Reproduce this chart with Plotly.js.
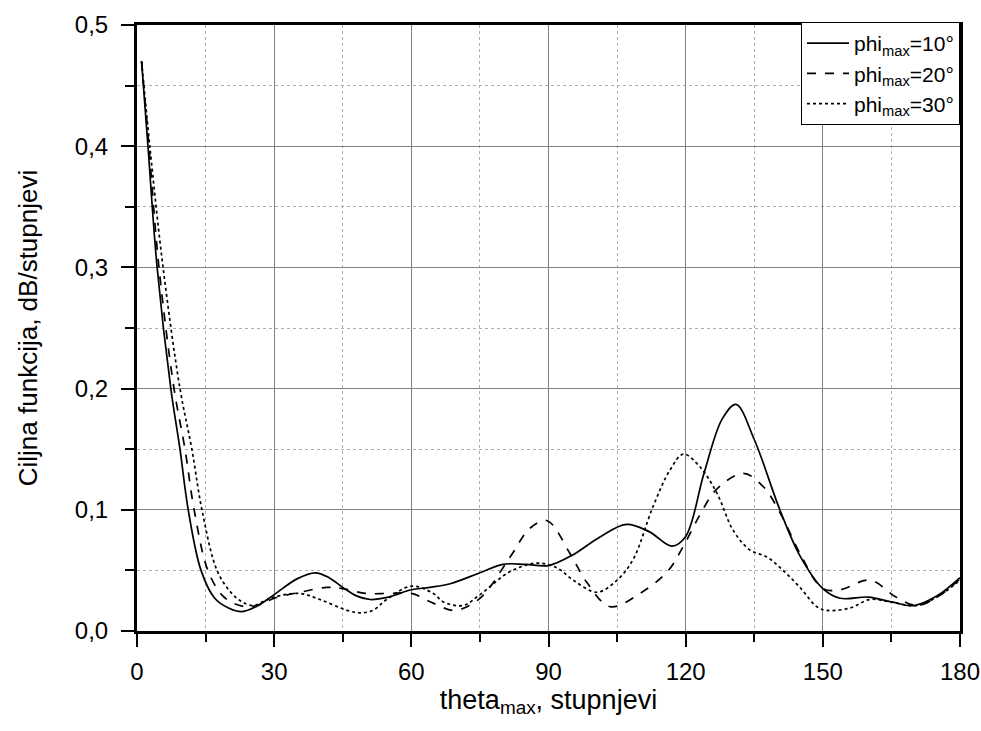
<!DOCTYPE html>
<html>
<head>
<meta charset="utf-8">
<script src="https://cdn.plot.ly/plotly-3.0.1.min.js"></script>
<style>html,body{margin:0;padding:0;background:#fff;}#chart{width:981px;height:731px;}</style>
</head>
<body>
<div id="chart"></div>
<script>
// phi_max = 10°
var x10 = [1, 2.4, 4.4, 7.4, 9.4, 11.2, 14, 17, 20, 23, 26, 30, 35, 39, 42, 45, 48, 51, 55, 60, 64, 68.5, 75, 80, 85, 90, 95.4, 101, 107, 112, 117, 120, 124, 128, 131, 135, 140.6, 145, 150, 153.8, 160, 165, 170, 175, 180];
var y10 = [0.47, 0.40, 0.30, 0.20, 0.15, 0.10, 0.05, 0.027, 0.019, 0.016, 0.020, 0.030, 0.043, 0.048, 0.044, 0.036, 0.029, 0.026, 0.028, 0.034, 0.036, 0.039, 0.048, 0.055, 0.055, 0.054, 0.063, 0.077, 0.088, 0.082, 0.070, 0.078, 0.130, 0.175, 0.187, 0.158, 0.100, 0.062, 0.035, 0.027, 0.028, 0.024, 0.021, 0.029, 0.044];
// phi_max = 20°
var x20 = [1, 2.6, 4.8, 8.1, 10.5, 12.5, 15.5, 18.5, 21, 24, 27, 30, 35.7, 41.5, 45, 50, 55, 60, 64.8, 69.5, 75, 81.6, 86, 89.7, 94.7, 98.4, 103.5, 110, 116, 119.5, 123, 126.8, 132.6, 137, 141, 145, 150, 153.8, 160.3, 166, 170.6, 175, 180];
var y20 = [0.47, 0.40, 0.30, 0.20, 0.15, 0.10, 0.05, 0.030, 0.023, 0.020, 0.022, 0.027, 0.032, 0.036, 0.035, 0.031, 0.031, 0.031, 0.023, 0.017, 0.027, 0.061, 0.085, 0.091, 0.064, 0.040, 0.020, 0.031, 0.049, 0.070, 0.095, 0.117, 0.130, 0.119, 0.095, 0.064, 0.035, 0.034, 0.042, 0.028, 0.021, 0.028, 0.043];
// phi_max = 30°
var x30 = [1, 2.8, 5.7, 9.4, 12, 14.2, 17.5, 20.5, 23, 25.4, 28, 30, 35.6, 40, 46, 48.8, 51.6, 54.6, 60, 64.8, 67, 71.3, 75, 81.6, 87.5, 91.9, 95.4, 100.6, 105, 108.5, 112.9, 116.6, 119.5, 123, 126.8, 130.4, 134, 137.8, 141.3, 145, 148.7, 150.9, 156, 160.3, 164.7, 170.6, 175, 180];
var y30 = [0.47, 0.40, 0.30, 0.20, 0.15, 0.10, 0.05, 0.032, 0.024, 0.021, 0.025, 0.028, 0.031, 0.026, 0.017, 0.015, 0.017, 0.026, 0.037, 0.031, 0.024, 0.021, 0.030, 0.049, 0.056, 0.052, 0.042, 0.032, 0.042, 0.059, 0.103, 0.133, 0.146, 0.136, 0.114, 0.083, 0.067, 0.061, 0.050, 0.036, 0.020, 0.017, 0.019, 0.026, 0.024, 0.021, 0.028, 0.042];

var names = ['phi<sub>max</sub>=10°', 'phi<sub>max</sub>=20°', 'phi<sub>max</sub>=30°'];
var xTicks = [0, 30, 60, 90, 120, 150, 180];
var xMinor = [15, 45, 75, 105, 135, 165];
var yTicks = [0, 0.1, 0.2, 0.3, 0.4, 0.5];
var yMinor = [0.05, 0.15, 0.25, 0.35, 0.45];

function tr(x, y, name, dash) {
  return {x: x, y: y, name: name, type: 'scatter', mode: 'lines',
    line: {color: '#000', width: 1.7, dash: dash, shape: 'spline', smoothing: 1.0}};
}
var data = [tr(x10, y10, names[0], 'solid'), tr(x20, y20, names[1], 'dash'), tr(x30, y30, names[2], 'dot')];

var fam = 'Liberation Sans, Arial, sans-serif';
var layout = {
  width: 981, height: 731,
  margin: {l: 137, r: 21, t: 25, b: 100},
  paper_bgcolor: '#fff', plot_bgcolor: '#fff',
  separators: ',.',
  font: {family: fam, size: 22, color: '#000'},
  showlegend: true,
  legend: {x: 1, xanchor: 'right', y: 1.005, yanchor: 'top', bgcolor: '#fff',
    bordercolor: '#000', borderwidth: 1, font: {size: 21}, itemwidth: 42},
  xaxis: {
    range: [0, 180], tickvals: xTicks,
    showline: true, linecolor: '#000', linewidth: 3, mirror: true,
    ticks: 'outside', ticklen: 13, tickwidth: 2, tickcolor: '#000',
    showgrid: true, gridcolor: '#808080', gridwidth: 1, zeroline: false,
    minor: {tickvals: xMinor, ticks: 'outside', ticklen: 8, tickwidth: 2, tickcolor: '#000',
      showgrid: true, gridcolor: '#b0b0b0', griddash: 'dot', gridwidth: 1},
    tickfont: {size: 24}, ticklabelstandoff: 4,
    title: {text: 'theta<sub>max</sub>, stupnjevi', font: {size: 27}, standoff: 0}
  },
  yaxis: {
    range: [0, 0.5], tickvals: yTicks, tickformat: '.1f',
    showline: true, linecolor: '#000', linewidth: 3, mirror: true,
    ticks: 'outside', ticklen: 13, tickwidth: 2, tickcolor: '#000',
    showgrid: true, gridcolor: '#808080', gridwidth: 1, zeroline: false,
    minor: {tickvals: yMinor, ticks: 'outside', ticklen: 9, tickwidth: 2, tickcolor: '#000',
      showgrid: true, gridcolor: '#b0b0b0', griddash: 'dot', gridwidth: 1},
    tickfont: {size: 24}, ticklabelstandoff: 8,
    title: {text: 'Ciljna funkcija, dB/stupnjevi', font: {size: 26}, standoff: 30}
  }
};
Plotly.newPlot('chart', data, layout, {displayModeBar: false, staticPlot: true});
</script>
</body>
</html>
